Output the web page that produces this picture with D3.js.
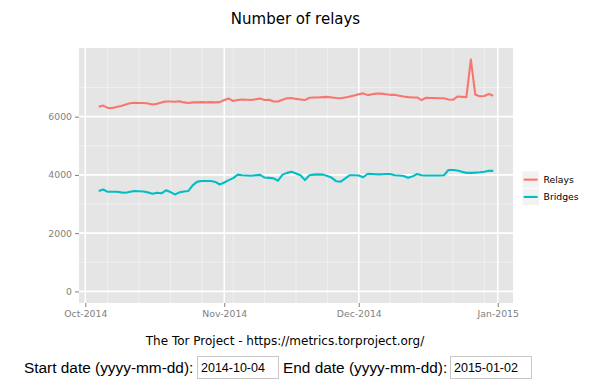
<!DOCTYPE html>
<html>
<head>
<meta charset="utf-8">
<script src="https://cdn.jsdelivr.net/npm/d3@7"></script>
<style>
body { margin: 0; background: #fff; }
#chart { position: absolute; left: 0; top: 0; }
.form { position: absolute; font-family: "Liberation Sans", Arial, sans-serif; font-size: 15.4px; color: #000; white-space: nowrap; }
.form input { position: absolute; box-sizing: border-box; width: 82px; height: 23px; border: 1px solid #c8c8c8; padding: 0 3px; font-family: "Liberation Sans", Arial, sans-serif; font-size: 12.5px; color: #000; background: #fff; }
</style>
</head>
<body>
<div id="chart"></div>
<div class="form" style="left:24px;top:359px;">Start date (yyyy-mm-dd):</div>
<div class="form"><input style="left:197px;top:356px;" value="2014-10-04"></div>
<div class="form" style="left:283px;top:359px;">End date (yyyy-mm-dd):</div>
<div class="form"><input style="left:450px;top:356px;" value="2015-01-02"></div>
<script>
// daily values, 2014-10-04 .. 2014-12-31
var startDate = "2014-10-04";
var endDate = "2014-12-31";
var seriesNames = ["Relays", "Bridges"];
var seriesColors = ["#F8766D", "#00BFC4"];

var relays = [6340, 6380, 6300, 6300, 6330, 6370, 6420, 6460, 6480, 6470,
    6470, 6450, 6420, 6440, 6490, 6520, 6520, 6510, 6530, 6490,
    6470, 6490, 6490, 6500, 6490, 6500, 6490, 6500, 6570, 6620,
    6540, 6570, 6590, 6580, 6570, 6600, 6620, 6570, 6580, 6520,
    6520, 6580, 6630, 6640, 6610, 6590, 6570, 6650, 6660, 6660,
    6670, 6680, 6660, 6640, 6630, 6660, 6690, 6730, 6770, 6800,
    6740, 6770, 6790, 6790, 6770, 6750, 6750, 6720, 6690, 6670,
    6660, 6660, 6570, 6650, 6640, 6640, 6630, 6630, 6590, 6580,
    6690, 6680, 6670, 7960, 6750, 6700, 6710, 6780, 6720];

var bridges = [3450, 3500, 3420, 3420, 3420, 3400, 3390, 3420, 3450, 3440,
    3430, 3400, 3350, 3390, 3370, 3470, 3410, 3330, 3400, 3430,
    3450, 3650, 3770, 3790, 3790, 3790, 3760, 3670, 3740, 3820,
    3890, 4010, 3990, 3980, 3970, 3990, 4000, 3910, 3900, 3880,
    3800, 4010, 4070, 4110, 4050, 3990, 3820, 3990, 4010, 4020,
    4010, 3960, 3900, 3780, 3770, 3880, 3990, 3990, 3980, 3920,
    4040, 4030, 4020, 4020, 4030, 4030, 3990, 3980, 3960, 3900,
    3950, 4030, 3990, 3980, 3980, 3980, 3980, 3990, 4170, 4170,
    4150, 4110, 4070, 4070, 4080, 4090, 4110, 4140, 4140];

var yTicks = [0, 2000, 4000, 6000];
var yMinor = [1000, 3000, 5000, 7000];

var width = 591, height = 350;
var panel = { left: 79, right: 513, top: 48, bottom: 303 };

var parse = d3.utcParse("%Y-%m-%d");
var days = d3.utcDay.range(parse(startDate), d3.utcDay.offset(parse(endDate), 1));
var series = [relays, bridges];

var svg = d3.select("#chart").append("svg")
    .attr("width", width)
    .attr("height", height)
    .style("font-family", "'DejaVu Sans', sans-serif");

// ggplot style 5% expansion on both axes
var t0 = days[0].getTime(), t1 = days[days.length - 1].getTime();
var padX = (t1 - t0) * 0.05;
var x = d3.scaleUtc()
    .domain([new Date(t0 - padX), new Date(t1 + padX)])
    .range([panel.left, panel.right]);

var yMax = d3.max(series, function (s) { return d3.max(s); });
var padY = yMax * 0.05;
var y = d3.scaleLinear()
    .domain([-padY, yMax + padY])
    .range([panel.bottom, panel.top]);

svg.append("rect")
    .attr("x", panel.left).attr("y", panel.top)
    .attr("width", panel.right - panel.left)
    .attr("height", panel.bottom - panel.top)
    .attr("fill", "#E5E5E5");

var months = d3.utcMonth.range(d3.utcMonth.ceil(x.domain()[0]), x.domain()[1]);
var weeks = d3.utcMonday.range(x.domain()[0], x.domain()[1]);

var grid = svg.append("g");
grid.selectAll(".ymin").data(yMinor).join("line")
    .attr("x1", panel.left).attr("x2", panel.right)
    .attr("y1", function (d) { return y(d); }).attr("y2", function (d) { return y(d); })
    .attr("stroke", "#F2F2F2").attr("stroke-width", 0.8);
grid.selectAll(".xmin").data(weeks).join("line")
    .attr("y1", panel.top).attr("y2", panel.bottom)
    .attr("x1", function (d) { return x(d); }).attr("x2", function (d) { return x(d); })
    .attr("stroke", "#F2F2F2").attr("stroke-width", 0.8);
grid.selectAll(".ymaj").data(yTicks).join("line")
    .attr("x1", panel.left).attr("x2", panel.right)
    .attr("y1", function (d) { return y(d); }).attr("y2", function (d) { return y(d); })
    .attr("stroke", "#fff").attr("stroke-width", 1.6);
grid.selectAll(".xmaj").data(months).join("line")
    .attr("y1", panel.top).attr("y2", panel.bottom)
    .attr("x1", function (d) { return x(d); }).attr("x2", function (d) { return x(d); })
    .attr("stroke", "#fff").attr("stroke-width", 1.6);

var line = d3.line()
    .x(function (d, i) { return x(days[i]); })
    .y(function (d) { return y(d); });

svg.selectAll(".series").data(series).join("path")
    .attr("class", "series")
    .attr("d", line)
    .attr("fill", "none")
    .attr("stroke", function (d, i) { return seriesColors[i]; })
    .attr("stroke-width", 2.1)
    .attr("stroke-linejoin", "round");

// axes
var xAxis = svg.append("g")
    .attr("transform", "translate(0," + panel.bottom + ")")
    .call(d3.axisBottom(x).tickValues(months).tickFormat(d3.utcFormat("%b-%Y")).tickSize(4).tickPadding(3));
var yAxis = svg.append("g")
    .attr("transform", "translate(" + panel.left + ",0)")
    .call(d3.axisLeft(y).tickValues(yTicks).tickFormat(d3.format("d")).tickSize(4).tickPadding(3));
[xAxis, yAxis].forEach(function (a) {
    a.select(".domain").remove();
    a.selectAll(".tick line").attr("stroke", "#7F7F7F");
    a.selectAll(".tick text").attr("fill", "#7F7F7F").style("font-size", "9.3px")
        .style("font-family", "'DejaVu Sans', sans-serif");
});

svg.append("text")
    .attr("x", width / 2).attr("y", 24)
    .attr("text-anchor", "middle")
    .style("font-size", "15px")
    .text("Number of relays");

svg.append("text")
    .attr("x", 285).attr("y", 345)
    .attr("text-anchor", "middle")
    .style("font-size", "12px")
    .text("The Tor Project - https://metrics.torproject.org/");

// legend
var legend = svg.append("g").attr("transform", "translate(522,171)");
var item = legend.selectAll("g").data(seriesNames).join("g")
    .attr("transform", function (d, i) { return "translate(0," + (i * 17.3) + ")"; });
item.append("rect")
    .attr("width", 17.3).attr("height", 17.3)
    .attr("fill", "#F2F2F2").attr("stroke", "#fff").attr("stroke-width", 0.8);
item.append("line")
    .attr("x1", 1.7).attr("x2", 15.6).attr("y1", 8.65).attr("y2", 8.65)
    .attr("stroke", function (d, i) { return seriesColors[i]; })
    .attr("stroke-width", 2.1);
item.append("text")
    .attr("x", 21.5).attr("y", 12)
    .style("font-size", "9.3px")
    .text(function (d) { return d; });
</script>
</body>
</html>
